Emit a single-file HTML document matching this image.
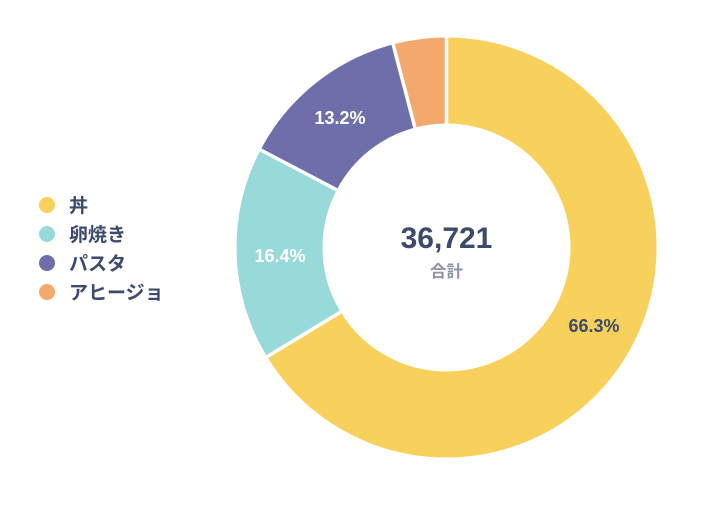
<!DOCTYPE html>
<html><head><meta charset="utf-8"><style>
html,body{margin:0;padding:0;background:#fff;width:720px;height:513px;overflow:hidden}
</style></head><body>
<svg width="720" height="513" xmlns="http://www.w3.org/2000/svg" font-family="'Liberation Sans','Noto Sans CJK JP',sans-serif" font-weight="bold">
<g transform="rotate(-90 446.5 247.5)" fill="none" stroke-width="86">
<circle cx="446.5" cy="247.5" r="167" stroke="#f8d15c" stroke-dasharray="695.7 2000" stroke-dashoffset="0"/>
<circle cx="446.5" cy="247.5" r="167" stroke="#98d9d9" stroke-dasharray="172.1 2000" stroke-dashoffset="-695.7"/>
<circle cx="446.5" cy="247.5" r="167" stroke="#6e6eab" stroke-dasharray="138.5 2000" stroke-dashoffset="-867.8"/>
<circle cx="446.5" cy="247.5" r="167" stroke="#f3a96e" stroke-dasharray="43.0 2000" stroke-dashoffset="-1006.3"/>
</g>
<g stroke="#fff" stroke-width="3.5">
<line x1="446.5" y1="125" x2="446.5" y2="35"/>
<line x1="340.6" y1="312" x2="265" y2="358"/>
<line x1="336.7" y1="189.8" x2="258" y2="148.5"/>
<line x1="414.9" y1="127.6" x2="392.5" y2="42"/>
</g>
<text x="340" y="124" font-size="18" fill="#fff" text-anchor="middle">13.2%</text>
<text x="280" y="262" font-size="18" fill="#fff" text-anchor="middle">16.4%</text>
<text x="594" y="332" font-size="18" fill="#3d4a6b" text-anchor="middle">66.3%</text>
<text x="446.5" y="248" font-size="30" fill="#3d4a6b" text-anchor="middle">36,721</text>
<text x="446.5" y="277" font-size="16.5" fill="#8c93a8" text-anchor="middle">合計</text>
<circle cx="47" cy="205" r="8" fill="#f8d15c"/>
<circle cx="47" cy="234" r="8" fill="#98d9d9"/>
<circle cx="47" cy="263" r="8" fill="#6e6eab"/>
<circle cx="47" cy="292" r="8" fill="#f3a96e"/>
<g font-size="19" fill="#3d4a6b">
<text x="69" y="212">丼</text>
<text x="69" y="241">卵焼き</text>
<text x="69" y="270">パスタ</text>
<text x="69" y="299">アヒージョ</text>
</g>
</svg>
</body></html>
